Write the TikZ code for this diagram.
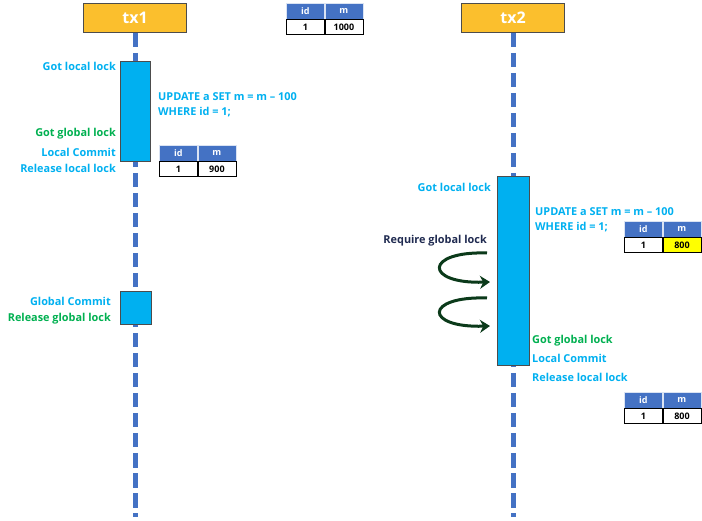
\documentclass[tikz,border=0pt]{standalone}
\usepackage{fontspec}
\setmainfont{Open Sans}
\usetikzlibrary{arrows.meta}
\definecolor{lifeblue}{HTML}{4472C4}
\definecolor{actcyan}{HTML}{00B0F0}
\definecolor{txorange}{HTML}{FBBF2D}
\definecolor{txtgreen}{HTML}{00B050}
\definecolor{navyt}{HTML}{1F2A50}
\definecolor{loopgreen}{HTML}{0B3A1A}
\definecolor{cellyellow}{HTML}{FFFF00}
\tikzset{
 txbox/.style={draw=black!70, line width=1pt, fill=txorange, minimum width=103pt, minimum height=29pt, inner sep=0pt, font=\fontsize{16}{18}\selectfont\bfseries, text=white},
 lifeline/.style={draw=lifeblue, line width=5pt, dash pattern=on 14.5pt off 5.5pt},
 actbox/.style={draw=black!70, line width=0.8pt, fill=actcyan, inner sep=0pt},
 lbl/.style={font=\fontsize{10.9}{12}\selectfont\bfseries, inner sep=0pt},
 cyanlbl/.style={lbl, text=actcyan},
 greenlbl/.style={lbl, text=txtgreen},
 hdr/.style={draw=white!80!lifeblue, line width=0.5pt, fill=lifeblue, text=white, font=\fontsize{9}{10}\selectfont\bfseries, minimum width=38pt, minimum height=16pt, inner sep=0pt},
 cell/.style={draw=black, line width=0.9pt, fill=white, text=black, font=\fontsize{9}{10}\selectfont\bfseries, minimum width=38pt, minimum height=15pt, inner sep=0pt},
 waitloop/.style={draw=loopgreen, line width=3pt, -{Stealth[length=10pt,width=13pt]}},
}
\newcommand\dbtab[5]{%
 \node[hdr, anchor=north west] (#1-ih) at (#2,#3) {id};
 \node[hdr, anchor=north west] (#1-mh) at (#1-ih.north east) {m};
 \node[cell, anchor=north west] (#1-iv) at (#1-ih.south west) {1};
 \node[cell, fill=#5, anchor=north west] (#1-mv) at (#1-ih.south east) {#4};
}
\begin{document}
\begin{tikzpicture}[x=1pt,y=-1pt]
\useasboundingbox (0,0) rectangle (702,521);
% lifelines
\node[txbox, anchor=north west] (tx1) at (83,3) {tx1};
\node[txbox, anchor=north west] (tx2) at (461,3) {tx2};
\coordinate (end1) at (tx1.south |- 0,517);
\coordinate (end2) at (tx2.south |- 0,517);
\draw[lifeline] (tx1.south) -- (end1);
\draw[lifeline] (tx2.south) -- (end2);
% activation boxes
\node[actbox, anchor=north west, minimum width=30pt, minimum height=100pt] (act1) at (120,61) {};
\node[actbox, anchor=north west, minimum width=31pt, minimum height=33pt] (act2) at (120,291) {};
\node[actbox, anchor=north west, minimum width=32pt, minimum height=189pt] (act3) at (497,176) {};
% tx1 labels
\node[cyanlbl, anchor=east] (a1) at (116,66) {Got local lock};
\node[cyanlbl, anchor=west] (u1) at (158,97) {UPDATE a SET m = m – 100};
\node[cyanlbl, anchor=west] (w1) at (158,112) {WHERE id = 1;};
\node[greenlbl, anchor=east] (g1) at (116,134) {Got global lock};
\node[cyanlbl, anchor=east] (c1) at (116,152) {Local Commit};
\node[cyanlbl, anchor=east] (r1) at (116,168) {Release local lock};
\node[cyanlbl, anchor=east] (gc) at (111,301) {Global Commit};
\node[greenlbl, anchor=east] (rg) at (111,319) {Release global lock};
% tx2 labels
\node[cyanlbl, anchor=east] (a2) at (491,187) {Got local lock};
\node[cyanlbl, anchor=west] (u2) at (535,212) {UPDATE a SET m = m – 100};
\node[cyanlbl, anchor=west] (w2) at (535,227) {WHERE id = 1;};
\node[lbl, text=navyt, anchor=east] (rq) at (487,241) {Require global lock};
\node[greenlbl, anchor=west] (g2) at (532,341) {Got global lock};
\node[cyanlbl, anchor=west] (c2) at (532,358) {Local Commit};
\node[cyanlbl, anchor=west] (r2) at (532,377) {Release local lock};
% tables
\dbtab{t0}{286}{3}{1000}{white}
\dbtab{t1}{159}{145}{900}{white}
\dbtab{t2}{624}{221}{800}{cellyellow}
\dbtab{t3}{624}{392}{800}{white}
% waiting loops
\coordinate (l1s) at (487,253);
\coordinate (l1e) at (490,282);
\coordinate (l2s) at (487,298);
\coordinate (l2e) at (490,326);
\draw[waitloop] (l1s) .. controls (424,251) and (424,284) .. (l1e);
\draw[waitloop] (l2s) .. controls (424,296) and (424,328) .. (l2e);
\end{tikzpicture}
\end{document}
